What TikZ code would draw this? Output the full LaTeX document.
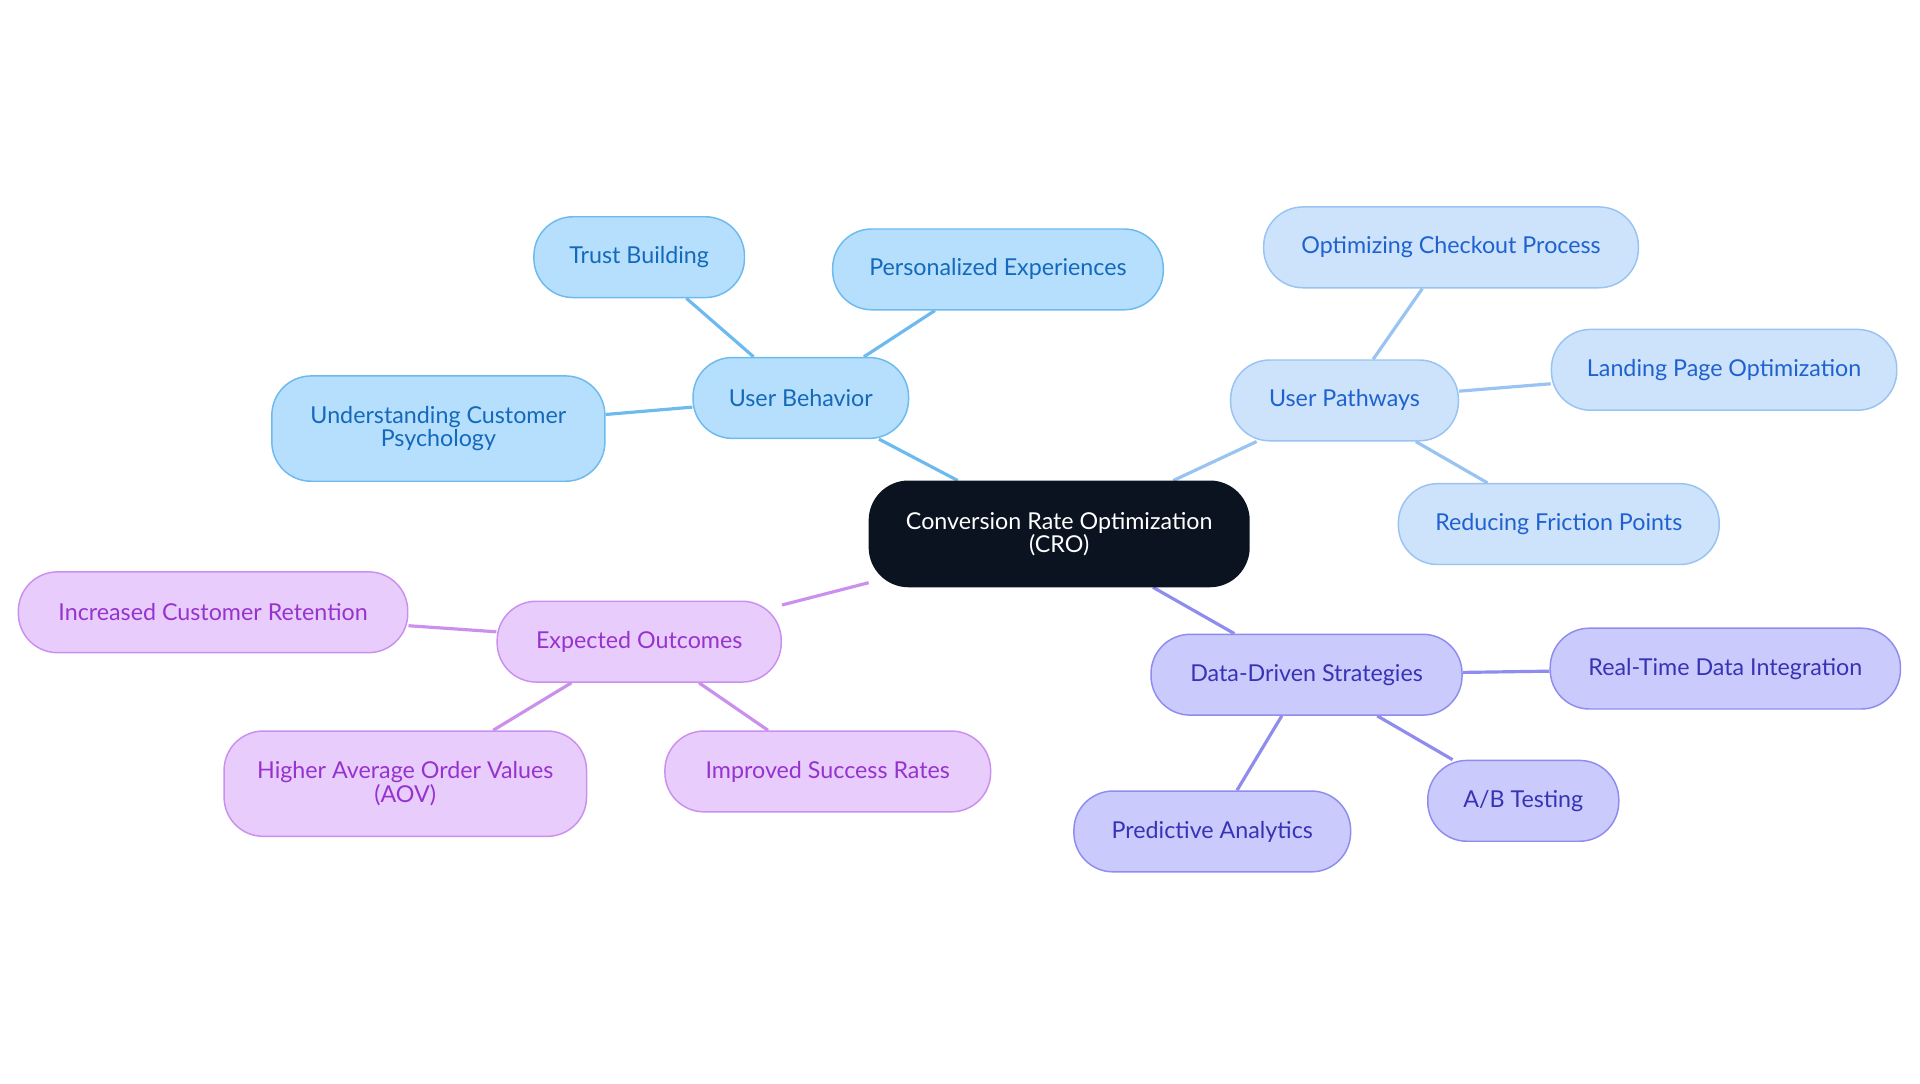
\documentclass[tikz,border=0pt]{standalone}
\usepackage{fontspec}
\setmainfont{Lato}
\usetikzlibrary{backgrounds}
\definecolor{rootfill}{HTML}{0B1320}
\definecolor{ubfill}{HTML}{B5DFFC}\definecolor{ubline}{HTML}{6DBAEF}\definecolor{ubtext}{HTML}{1569BA}
\definecolor{upfill}{HTML}{CDE3FB}\definecolor{upline}{HTML}{99C3F1}\definecolor{uptext}{HTML}{1F62CF}
\definecolor{ddfill}{HTML}{CACAFC}\definecolor{ddline}{HTML}{8F8CEE}\definecolor{ddtext}{HTML}{3833B5}
\definecolor{eofill}{HTML}{E8CCFB}\definecolor{eoline}{HTML}{CB90EE}\definecolor{eotext}{HTML}{9633CF}
\tikzset{
  box/.style={rounded corners=16pt, minimum height=33pt, align=center, font=\fontsize{9.5}{9.5}\selectfont, line width=0.6pt},
  ub/.style={box, fill=ubfill, draw=ubline, text=ubtext},
  up/.style={box, fill=upfill, draw=upline, text=uptext},
  dd/.style={box, fill=ddfill, draw=ddline, text=ddtext},
  eo/.style={box, fill=eofill, draw=eoline, text=eotext},
  link/.style={line width=1.3pt}
}
\begin{document}
\begin{tikzpicture}[x=0.5pt,y=-0.5pt]
  \useasboundingbox (0,0) rectangle (1568,885);
  % centre
  \node [box, fill=rootfill, draw=rootfill, text=white, minimum width=155pt, minimum height=43pt] (cro) at (865,436) {Conversion Rate Optimization\\(CRO)};
  % user behavior
  \node [ub, minimum width=88pt] (beh) at (654,325) {User Behavior};
  \node [ub, minimum width=86pt] (trust) at (522,210) {Trust Building};
  \node [ub, minimum width=135pt] (pers) at (815,220) {Personalized Experiences};
  \node [ub, minimum width=136pt, minimum height=43pt] (psy) at (358,350) {Understanding Customer\\Psychology};
  % user pathways
  \node [up, minimum width=93pt] (path) at (1098,327) {User Pathways};
  \node [up, minimum width=153pt] (check) at (1185,202) {Optimizing Checkout Process};
  \node [up, minimum width=141pt] (land) at (1408,302) {Landing Page Optimization};
  \node [up, minimum width=131pt] (fric) at (1273,428) {Reducing Friction Points};
  % data-driven
  \node [dd, minimum width=127pt] (data) at (1067,551) {Data-Driven Strategies};
  \node [dd, minimum width=143pt] (real) at (1409,546) {Real-Time Data Integration};
  \node [dd, minimum width=78pt] (ab) at (1244,654) {A/B Testing};
  \node [dd, minimum width=113pt] (pred) at (990,679) {Predictive Analytics};
  % outcomes
  \node [eo, minimum width=116pt] (out) at (522,524) {Expected Outcomes};
  \node [eo, minimum width=159pt] (ret) at (174,500) {Increased Customer Retention};
  \node [eo, minimum width=148pt, minimum height=43pt] (aov) at (331,640) {Higher Average Order Values\\(AOV)};
  \node [eo, minimum width=133pt] (succ) at (676,630) {Improved Success Rates};
  \begin{scope}[on background layer]
    \draw [link, ubline] (cro) -- (beh) (beh) -- (trust) (beh) -- (pers) (beh) -- (psy);
    \draw [link, upline] (cro) -- (path) (path) -- (check) (path) -- (land) (path) -- (fric);
    \draw [link, ddline] (cro) -- (data) (data) -- (real) (data) -- (ab) (data) -- (pred);
    \draw [link, eoline] (cro) -- (out) (out) -- (ret) (out) -- (aov) (out) -- (succ);
  \end{scope}
\end{tikzpicture}
\end{document}
